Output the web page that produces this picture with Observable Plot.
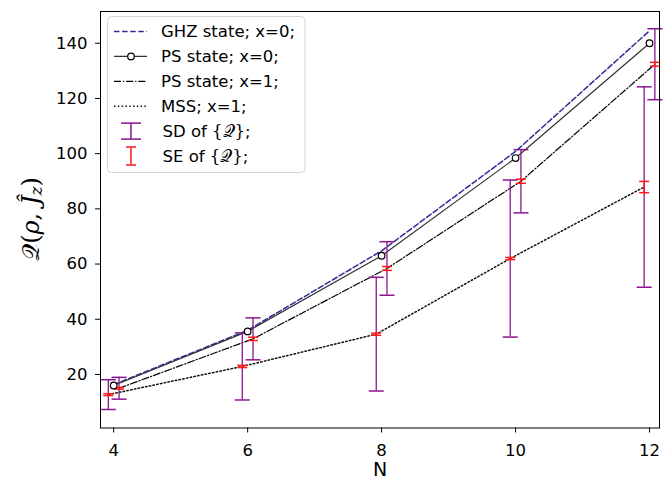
<!DOCTYPE html>
<html>
<head>
<meta charset="utf-8">
<script src="https://cdn.jsdelivr.net/npm/d3@7"></script>
<script src="https://cdn.jsdelivr.net/npm/@observablehq/plot@0.6"></script>
<style>
  body { margin: 0; background: #fff; }
</style>
</head>
<body>
<div id="chart"></div>
<script>
// System size N and the quantity Q(rho, J_z) for each state family
const N = [4, 6, 8, 10, 12];
const ghzX0 = [16.3, 36.0, 64.8, 100.8, 144.5];
const psX0 = [16.0, 35.6, 63.0, 98.4, 140.0];
const psX1 = [15.0, 32.9, 58.4, 90.0, 132.4];
const mssX1 = [12.7, 22.9, 34.6, 62.0, 87.9];

// Spread of the sampled values: standard deviation and standard error
const sdPsX1 = [3.95, 7.6, 9.7, 11.45, 12.85];
const sePsX1 = [0.3, 0.6, 0.7, 0.75, 0.7];
const sdMss = [5.4, 12.15, 20.6, 28.45, 36.3];
const seMss = [0.35, 0.4, 0.4, 0.4, 2.05];

// Horizontal nudge so the two error-bar families do not overlap
const shift = 0.08;

const xTicks = [4, 6, 8, 10, 12];
const yTicks = [20, 40, 60, 80, 100, 120, 140];

const ghzRows = N.map((n, i) => ({n, q: ghzX0[i]}));
const ps0Rows = N.map((n, i) => ({n, q: psX0[i]}));
const ps1Rows = N.map((n, i) => ({n: n + shift, q: psX1[i], sd: sdPsX1[i], se: sePsX1[i]}));
const mssRows = N.map((n, i) => ({n: n - shift, q: mssX1[i], sd: sdMss[i], se: seMss[i]}));
const barRows = [...mssRows, ...ps1Rows];

// Horizontal cap symbol for error bars (half-width = r)
const cap = {
  draw(ctx, size) {
    const r = Math.sqrt(size / Math.PI);
    ctx.moveTo(-r, 0);
    ctx.lineTo(r, 0);
  }
};

const SD_COLOR = "#8a1590";
const SE_COLOR = "#ff1a1a";
const GHZ_COLOR = "#2c2c9a";

const styles = {
  ghz: {stroke: GHZ_COLOR, width: 1.5, dash: "5.5,2.6"},
  ps0: {stroke: "#333", width: 1.2, dash: null},
  ps1: {stroke: "#000", width: 1.2, dash: "7,2,1.2,2"},
  mss: {stroke: "#111", width: 1.5, dash: "1.5,2.3"}
};

const chart = Plot.plot({
  width: 671,
  height: 481,
  marginLeft: 100,
  marginRight: 12,
  marginTop: 11,
  marginBottom: 53.5,
  style: {fontFamily: "DejaVu Sans", fontSize: "16.5px", color: "black", background: "white", overflow: "visible"},
  x: {domain: [3.803, 12.149]},
  y: {domain: [0.6, 151.5]},
  marks: [
    Plot.line(ghzRows, {x: "n", y: "q", stroke: styles.ghz.stroke, strokeWidth: styles.ghz.width, strokeDasharray: styles.ghz.dash}),
    Plot.line(ps0Rows, {x: "n", y: "q", stroke: styles.ps0.stroke, strokeWidth: styles.ps0.width}),
    Plot.line(ps1Rows, {x: "n", y: "q", stroke: styles.ps1.stroke, strokeWidth: styles.ps1.width, strokeDasharray: styles.ps1.dash}),
    Plot.line(mssRows, {x: "n", y: "q", stroke: styles.mss.stroke, strokeWidth: styles.mss.width, strokeDasharray: styles.mss.dash}),

    // standard deviation bars
    Plot.ruleX(barRows, {x: "n", y1: d => d.q - d.sd, y2: d => d.q + d.sd, stroke: SD_COLOR, strokeWidth: 1.3}),
    Plot.dot(barRows, {x: "n", y: d => d.q - d.sd, symbol: cap, r: 7.5, stroke: SD_COLOR, fill: "none", strokeWidth: 1.5}),
    Plot.dot(barRows, {x: "n", y: d => d.q + d.sd, symbol: cap, r: 7.5, stroke: SD_COLOR, fill: "none", strokeWidth: 1.5}),

    // standard error bars
    Plot.ruleX(barRows, {x: "n", y1: d => d.q - d.se, y2: d => d.q + d.se, stroke: SE_COLOR, strokeWidth: 1.5}),
    Plot.dot(barRows, {x: "n", y: d => d.q - d.se, symbol: cap, r: 5, stroke: SE_COLOR, fill: "none", strokeWidth: 1.5}),
    Plot.dot(barRows, {x: "n", y: d => d.q + d.se, symbol: cap, r: 5, stroke: SE_COLOR, fill: "none", strokeWidth: 1.5}),

    Plot.dot(ps0Rows, {x: "n", y: "q", r: 3.3, stroke: "black", fill: "white", strokeWidth: 1.2}),

    Plot.frame({stroke: "black", strokeWidth: 1}),
    Plot.axisX(xTicks, {tickSize: 5, tickPadding: 11, label: null, fontSize: 16.5}),
    Plot.axisY(yTicks, {tickSize: 5, tickPadding: 8, label: null, fontSize: 16.5}),
    Plot.text(["N"], {frameAnchor: "bottom", dy: 48, fontSize: 19})
  ]
});

document.getElementById("chart").appendChild(chart);

const svg = d3.select(chart);

// y-axis label: Q(rho, J_z) in math style
const ylab = svg.append("text")
  .attr("transform", "translate(31,219) rotate(-90)")
  .attr("text-anchor", "middle")
  .attr("dominant-baseline", "central")
  .attr("font-family", "DejaVu Serif")
  .attr("font-size", 24)
  .attr("fill", "black");
ylab.append("tspan").attr("font-family", "DejaVu Sans, DejaVu Serif").text("𝒬");
ylab.append("tspan").text("(");
ylab.append("tspan").attr("font-style", "italic").text("ρ");
ylab.append("tspan").text(", ");
ylab.append("tspan").attr("font-style", "italic").text("Ĵ");
ylab.append("tspan").attr("font-style", "italic").attr("font-size", 17).attr("dy", 5).text("z");
ylab.append("tspan").attr("dy", -5).text(")");

// legend
const lg = svg.append("g")
  .attr("font-family", "DejaVu Sans")
  .attr("font-size", 16.5)
  .attr("text-anchor", "start")
  .attr("fill", "black");
lg.append("rect")
  .attr("x", 107.5).attr("y", 16.5).attr("width", 197.5).attr("height", 156)
  .attr("rx", 4).attr("fill", "white").attr("fill-opacity", 0.85)
  .attr("stroke", "#d4d4d4").attr("stroke-width", 1);

const rowY = i => 31.5 + i * 24.9;
const hx0 = 114, hx1 = 147, hxm = 131;

const legendLines = [
  {label: "GHZ state; x=0;", s: styles.ghz},
  {label: "PS state; x=0;", s: styles.ps0, marker: true},
  {label: "PS state; x=1;", s: styles.ps1},
  {label: "MSS; x=1;", s: styles.mss}
];
legendLines.forEach((d, i) => {
  const y = rowY(i);
  const ln = lg.append("line").attr("x1", hx0).attr("x2", hx1).attr("y1", y).attr("y2", y)
    .attr("stroke", d.s.stroke).attr("stroke-width", d.s.width);
  if (d.s.dash) ln.attr("stroke-dasharray", d.s.dash);
  if (d.marker) {
    lg.append("circle").attr("cx", hxm).attr("cy", y).attr("r", 3.3)
      .attr("fill", "white").attr("stroke", "black").attr("stroke-width", 1.2);
  }
  lg.append("text").attr("x", 161).attr("y", y).attr("dominant-baseline", "central")
    .attr("text-anchor", "start").text(d.label);
});

const legendBars = [
  {label: "SD of ", color: SD_COLOR, half: 8, capHalf: 10},
  {label: "SE of ", color: SE_COLOR, half: 9, capHalf: 5}
];
legendBars.forEach((d, j) => {
  const y = rowY(4 + j);
  lg.append("line").attr("x1", hxm).attr("x2", hxm).attr("y1", y - d.half).attr("y2", y + d.half)
    .attr("stroke", d.color).attr("stroke-width", 1.5);
  [-d.half, d.half].forEach(o => {
    lg.append("line").attr("x1", hxm - d.capHalf).attr("x2", hxm + d.capHalf)
      .attr("y1", y + o).attr("y2", y + o).attr("stroke", d.color).attr("stroke-width", 1.5);
  });
  const t = lg.append("text").attr("x", 162.5).attr("y", y)
    .attr("dominant-baseline", "central").attr("text-anchor", "start");
  t.append("tspan").text(d.label);
  t.append("tspan").attr("font-family", "DejaVu Serif").text("{");
  t.append("tspan").attr("font-family", "DejaVu Sans, DejaVu Serif").text("𝒬");
  t.append("tspan").attr("font-family", "DejaVu Serif").text("}");
  t.append("tspan").text(";");
});
</script>
</body>
</html>
